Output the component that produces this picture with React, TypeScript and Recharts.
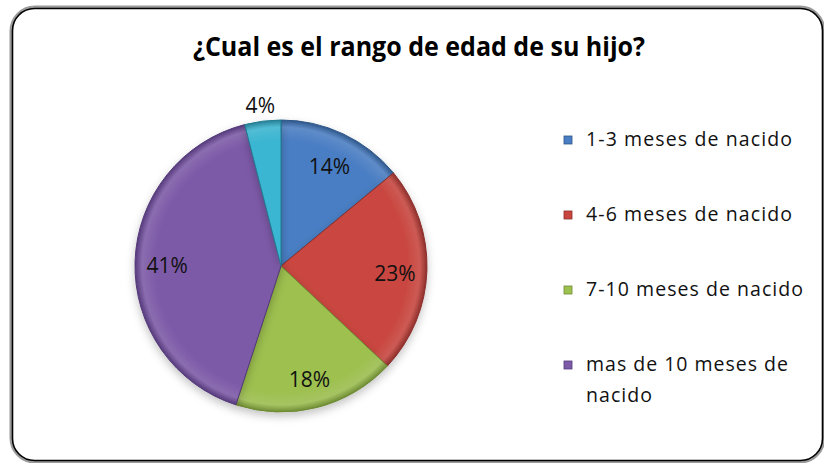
import React from 'react';
import { PieChart, Pie, Cell, Legend } from 'recharts';

const categories = [
  '1-3 meses de nacido',
  '4-6 meses de nacido',
  '7-10 meses de nacido',
  'mas de 10 meses de nacido',
  'otro',
];
const percentages = [14, 23, 18, 41, 4];
const colors = ['#4A7EC4', '#C9463F', '#9DC04F', '#7D5AA8', '#3BB6D2'];
const edgeColors = ['#2C5588', '#8C2E2A', '#6E8A34', '#54397A', '#237C92'];
const legendLines = [
  ['1-3 meses de nacido'],
  ['4-6 meses de nacido'],
  ['7-10 meses de nacido'],
  ['mas de 10 meses de', 'nacido'],
];
const legendLineWidths = [[206], [206], [217], [202, 66]];
const title = '¿Cual es el rango de edad de su hijo?';

const data = categories.map((name, i) => ({ name, value: percentages[i] }));

const RAD = Math.PI / 180;
const FONT = '"Open Sans", "Liberation Sans", sans-serif';

const renderLabel = (props: any) => {
  const { cx, cy, midAngle, outerRadius, index, value } = props;
  const r = index === 4 ? outerRadius + 19 : outerRadius * 0.78;
  const x = cx + r * Math.cos(-midAngle * RAD);
  const y = cy + r * Math.sin(-midAngle * RAD) + 3;
  return (
    <text
      x={x}
      y={y}
      textAnchor="middle"
      dominantBaseline="central"
      fontFamily={FONT}
      fontSize={21}
      fill="#111"
    >
      {value}%
    </text>
  );
};

const renderLegend = (props: any) => {
  const payload = (props.payload || []).filter((p: any) => legendLines.some((l) => l.join(' ') === p.value));
  const rowY = [20, 95, 170, 245];
  return (
    <svg width={260} height={300} style={{ display: 'block' }}>
      {payload.map((p: any) => {
        const idx = legendLines.findIndex((l) => l.join(' ') === p.value);
        const cyRow = rowY[idx];
        return (
          <g key={p.value}>
            <rect
              x={9}
              y={cyRow - 4}
              width={8}
              height={8}
              fill={colors[idx]}
              stroke={edgeColors[idx]}
              strokeWidth={0.8}
            />
            {legendLines[idx].map((line, j) => (
              <text
                key={j}
                x={31}
                y={cyRow + 6 + j * 31}
                fontFamily={FONT}
                fontSize={19.5}
                fill="#111"
                textLength={legendLineWidths[idx][j]}
                lengthAdjust="spacing"
              >
                {line}
              </text>
            ))}
          </g>
        );
      })}
    </svg>
  );
};

export default function App() {
  return (
    <div
      style={{
        position: 'absolute',
        left: 0,
        top: 0,
        width: 824,
        height: 463,
        background: '#fff',
        overflow: 'hidden',
      }}
    >
      <svg
        width={824}
        height={463}
        style={{ position: 'absolute', left: 0, top: 0 }}
      >
        <rect x={11} y={7} width={813} height={455} rx={24} fill="none" stroke="#9a9a9a" strokeWidth={3} />
        <rect x={12.5} y={8.5} width={810} height={452} rx={22} fill="#fff" stroke="#000" strokeWidth={1.6} />
        <text
          x={419}
          y={56}
          textAnchor="middle"
          fontFamily={FONT}
          fontWeight="bold"
          fontSize={27}
          fill="#000"
          textLength={452}
          lengthAdjust="spacingAndGlyphs"
        >
          {title}
        </text>
      </svg>
      <div style={{ position: 'absolute', left: 0, top: 0 }}>
        <PieChart width={824} height={463} margin={{ top: 0, right: 0, bottom: 0, left: 0 }}>
          <defs>
            <filter id="pieShadow" x="-20%" y="-20%" width="140%" height="140%">
              <feDropShadow dx="0" dy="4" stdDeviation="4" floodColor="#000" floodOpacity="0.25" />
            </filter>
            {colors.map((c, i) => (
              <radialGradient
                key={i}
                id={`grad${i}`}
                gradientUnits="userSpaceOnUse"
                cx={281}
                cy={266}
                r={146}
              >
                <stop offset="0%" stopColor={c} />
                <stop offset="86%" stopColor={c} />
                <stop offset="95%" stopColor={c} stopOpacity={0.85} />
                <stop offset="100%" stopColor={edgeColors[i]} />
              </radialGradient>
            ))}
          </defs>
          <Pie
            data={data}
            dataKey="value"
            nameKey="name"
            cx={281}
            cy={266}
            outerRadius={146}
            startAngle={90}
            endAngle={-270}
            label={renderLabel}
            labelLine={false}
            isAnimationActive={false}
            style={{ filter: 'url(#pieShadow)' }}
          >
            {data.map((d, i) => (
              <Cell key={d.name} fill={`url(#grad${i})`} stroke={edgeColors[i]} strokeWidth={1} />
            ))}
          </Pie>
          <Legend
            content={renderLegend}
            wrapperStyle={{ position: 'absolute', left: 555, top: 120, width: 260, height: 300 }}
          />
        </PieChart>
      </div>
    </div>
  );
}
